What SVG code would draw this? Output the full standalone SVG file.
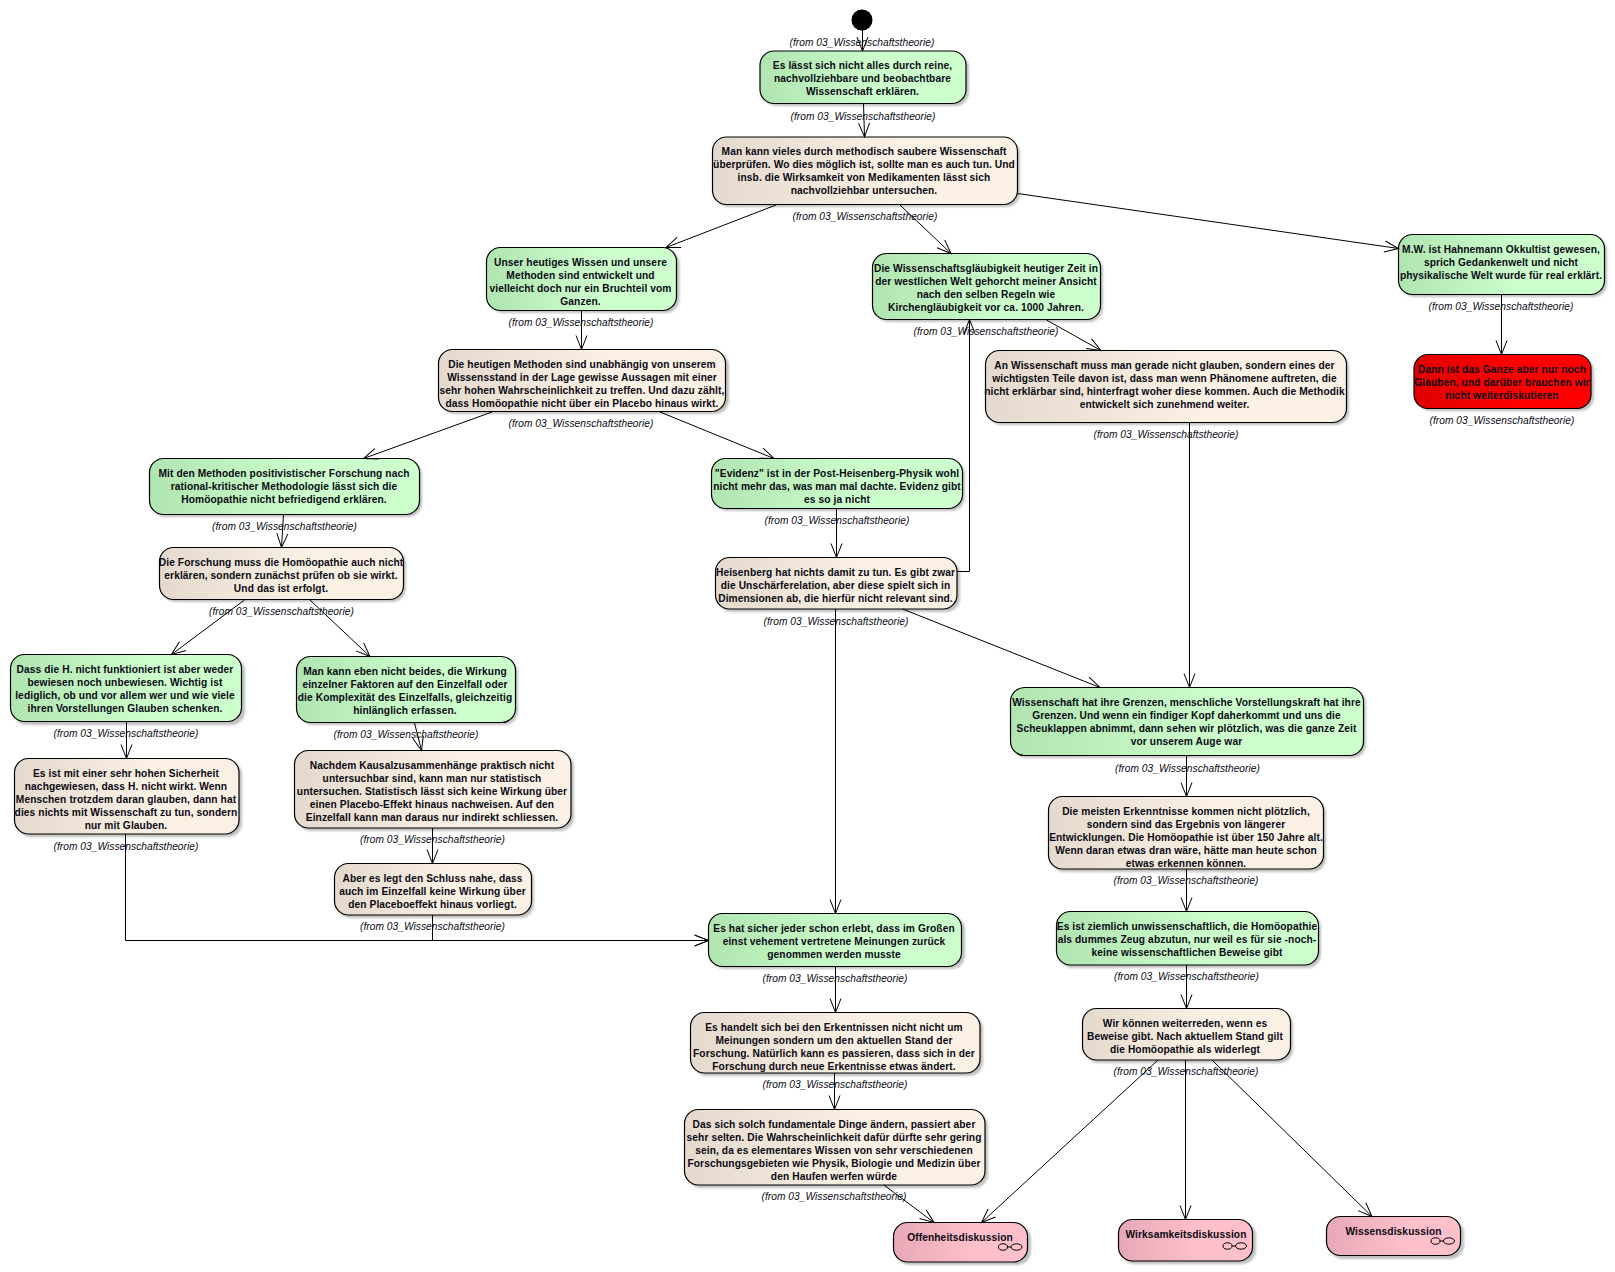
<svg xmlns="http://www.w3.org/2000/svg" width="1615" height="1272" viewBox="0 0 1615 1272">
<style>
.b{stroke:#000;stroke-width:1.2}
.s{fill:#aaa;opacity:.75;filter:url(#blur)}
.g{fill:url(#green)}.c{fill:url(#cream)}.p{fill:url(#pink)}.r{fill:url(#red)}
text{font-family:"Liberation Sans",Arial,sans-serif;fill:#0a0a14}
.t{font-size:10.2px;font-weight:700;text-anchor:middle;letter-spacing:.1px}
.f{font-size:10.2px;font-style:italic;text-anchor:middle;letter-spacing:.04px}
#connectors path{fill:none;stroke:#000;stroke-width:1;marker-end:url(#arrow)}
.i{fill:none;stroke:#000;stroke-width:1}
</style>
<defs>
<linearGradient id="green"><stop offset="0" stop-color="#b0e4b0"/><stop offset=".6" stop-color="#ccffcc"/></linearGradient>
<linearGradient id="cream"><stop offset="0" stop-color="#e4d9cc"/><stop offset=".6" stop-color="#faf0e4"/></linearGradient>
<linearGradient id="pink"><stop offset="0" stop-color="#e6a8b6"/><stop offset=".6" stop-color="#ffc0cb"/></linearGradient>
<linearGradient id="red"><stop offset="0" stop-color="#e00000"/><stop offset=".6" stop-color="#ff0000"/></linearGradient>
<filter id="blur" x="-5%" y="-5%" width="110%" height="110%"><feGaussianBlur stdDeviation="1"/></filter>
<marker id="arrow" markerUnits="userSpaceOnUse" markerWidth="20" markerHeight="14" refX="15" refY="7" orient="auto"><path d="M1 1.500L15 7L1 12.500" fill="none" stroke="#000" stroke-width="1"/></marker>
</defs>
<g id="nodes">
<g id="start"><circle cx="862" cy="20" r="10.500" fill="#000"/></g>
<text class="f" x="862" y="45.500">(from 03_Wissenschaftstheorie)</text>

<g id="n1"><rect class="s" x="763" y="54" width="206" height="52" rx="14"/><rect class="g b" x="760" y="51" width="206" height="52.500" rx="14"/>
<text class="t" y="69"><tspan x="862.500">Es lässt sich nicht alles durch reine,</tspan><tspan x="862.500" dy="13">nachvollziehbare und beobachtbare</tspan><tspan x="862.500" dy="13">Wissenschaft erklären.</tspan></text>
<text class="f" x="863" y="119.500">(from 03_Wissenschaftstheorie)</text></g>

<g id="n2"><rect class="s" x="715" y="140" width="305" height="67" rx="14"/><rect class="c b" x="712.500" y="137" width="305" height="67.500" rx="14"/>
<text class="t" y="155"><tspan x="864">Man kann vieles durch methodisch saubere Wissenschaft</tspan><tspan x="864" dy="13">überprüfen. Wo dies möglich ist, sollte man es auch tun. Und</tspan><tspan x="864" dy="13">insb. die Wirksamkeit von Medikamenten lässt sich</tspan><tspan x="864" dy="13">nachvollziehbar untersuchen.</tspan></text>
<text class="f" x="865" y="220">(from 03_Wissenschaftstheorie)</text></g>

<g id="n3"><rect class="s" x="489.500" y="250" width="190" height="63" rx="14"/><rect class="g b" x="486.500" y="247.500" width="190" height="63" rx="14"/>
<text class="t" y="265.500"><tspan x="580.500">Unser heutiges Wissen und unsere</tspan><tspan x="580.500" dy="13">Methoden sind entwickelt und</tspan><tspan x="580.500" dy="13">vielleicht doch nur ein Bruchteil vom</tspan><tspan x="580.500" dy="13">Ganzen.</tspan></text>
<text class="f" x="581" y="326">(from 03_Wissenschaftstheorie)</text></g>

<g id="n4"><rect class="s" x="875" y="256" width="228" height="66" rx="14"/><rect class="g b" x="872.500" y="253.500" width="228" height="66" rx="14"/>
<text class="t" y="271.500"><tspan x="986">Die Wissenschaftsgläubigkeit heutiger Zeit in</tspan><tspan x="986" dy="13">der westlichen Welt gehorcht meiner Ansicht</tspan><tspan x="986" dy="13">nach den selben Regeln wie</tspan><tspan x="986" dy="13">Kirchengläubigkeit vor ca. 1000 Jahren.</tspan></text>
<text class="f" x="986" y="335">(from 03_Wissenschaftstheorie)</text></g>

<g id="n5"><rect class="s" x="1401" y="237" width="206" height="60" rx="14"/><rect class="g b" x="1398.500" y="234.500" width="206" height="60" rx="14"/>
<text class="t" y="252.500"><tspan x="1501">M.W. ist Hahnemann Okkultist gewesen,</tspan><tspan x="1501" dy="13">sprich Gedankenwelt und nicht</tspan><tspan x="1501" dy="13">physikalische Welt wurde für real erklärt.</tspan></text>
<text class="f" x="1501" y="310">(from 03_Wissenschaftstheorie)</text></g>

<g id="n6"><rect class="s" x="1417" y="357" width="177" height="54" rx="14"/><rect class="r b" x="1414" y="354.500" width="177" height="54" rx="14"/>
<text class="t" y="373"><tspan x="1502">Dann ist das Ganze aber nur noch</tspan><tspan x="1502" dy="13">Glauben, und darüber brauchen wir</tspan><tspan x="1502" dy="13">nicht weiterdiskutieren</tspan></text>
<text class="f" x="1502" y="424">(from 03_Wissenschaftstheorie)</text></g>

<g id="n7"><rect class="s" x="441" y="352" width="288" height="62" rx="14"/><rect class="c b" x="438.500" y="349.500" width="287" height="62" rx="14"/>
<text class="t" y="367.500"><tspan x="582">Die heutigen Methoden sind unabhängig von unserem</tspan><tspan x="582" dy="13">Wissensstand in der Lage gewisse Aussagen mit einer</tspan><tspan x="582" dy="13">sehr hohen Wahrscheinlichkeit zu treffen. Und dazu zählt,</tspan><tspan x="582" dy="13">dass Homöopathie nicht über ein Placebo hinaus wirkt.</tspan></text>
<text class="f" x="581" y="427">(from 03_Wissenschaftstheorie)</text></g>

<g id="n8"><rect class="s" x="988" y="353" width="361" height="72" rx="14"/><rect class="c b" x="985.500" y="350.500" width="361" height="72" rx="14"/>
<text class="t" y="368.500"><tspan x="1164.500">An Wissenschaft muss man gerade nicht glauben, sondern eines der</tspan><tspan x="1164.500" dy="13">wichtigsten Teile davon ist, dass man wenn Phänomene auftreten, die</tspan><tspan x="1164.500" dy="13">nicht erklärbar sind, hinterfragt woher diese kommen. Auch die Methodik</tspan><tspan x="1164.500" dy="13">entwickelt sich zunehmend weiter.</tspan></text>
<text class="f" x="1166" y="438">(from 03_Wissenschaftstheorie)</text></g>

<g id="n9"><rect class="s" x="152" y="461" width="270" height="56" rx="14"/><rect class="g b" x="149.500" y="458.500" width="270" height="56" rx="14"/>
<text class="t" y="476.500"><tspan x="284">Mit den Methoden positivistischer Forschung nach</tspan><tspan x="284" dy="13">rational-kritischer Methodologie lässt sich die</tspan><tspan x="284" dy="13">Homöopathie nicht befriedigend erklären.</tspan></text>
<text class="f" x="284.500" y="530">(from 03_Wissenschaftstheorie)</text></g>

<g id="n10"><rect class="s" x="714" y="461" width="251" height="50" rx="14"/><rect class="g b" x="711.500" y="458.500" width="251" height="50" rx="14"/>
<text class="t" y="476.500"><tspan x="837">"Evidenz" ist in der Post-Heisenberg-Physik wohl</tspan><tspan x="837" dy="13">nicht mehr das, was man mal dachte. Evidenz gibt</tspan><tspan x="837" dy="13">es so ja nicht</tspan></text>
<text class="f" x="837" y="524">(from 03_Wissenschaftstheorie)</text></g>

<g id="n11"><rect class="s" x="162" y="550" width="244" height="52" rx="14"/><rect class="c b" x="159.500" y="547.500" width="244" height="52" rx="14"/>
<text class="t" y="565.500"><tspan x="281">Die Forschung muss die Homöopathie auch nicht</tspan><tspan x="281" dy="13">erklären, sondern zunächst prüfen ob sie wirkt.</tspan><tspan x="281" dy="13">Und das ist erfolgt.</tspan></text>
<text class="f" x="281.500" y="615">(from 03_Wissenschaftstheorie)</text></g>

<g id="n12"><rect class="s" x="718" y="560" width="242" height="52" rx="14"/><rect class="c b" x="715.500" y="557.500" width="241.500" height="51.500" rx="14"/>
<text class="t" y="575.500"><tspan x="835.500">Heisenberg hat nichts damit zu tun. Es gibt zwar</tspan><tspan x="835.500" dy="13">die Unschärferelation, aber diese spielt sich in</tspan><tspan x="835.500" dy="13">Dimensionen ab, die hierfür nicht relevant sind.</tspan></text>
<text class="f" x="836" y="624.500">(from 03_Wissenschaftstheorie)</text></g>

<g id="n13"><rect class="s" x="13" y="657" width="232" height="68" rx="14"/><rect class="g b" x="10.500" y="654.500" width="231" height="67" rx="14"/>
<text class="t" y="672.500"><tspan x="125">Dass die H. nicht funktioniert ist aber weder</tspan><tspan x="125" dy="13">bewiesen noch unbewiesen. Wichtig ist</tspan><tspan x="125" dy="13">lediglich, ob und vor allem wer und wie viele</tspan><tspan x="125" dy="13">ihren Vorstellungen Glauben schenken.</tspan></text>
<text class="f" x="126" y="737">(from 03_Wissenschaftstheorie)</text></g>

<g id="n14"><rect class="s" x="299" y="659" width="219" height="66" rx="14"/><rect class="g b" x="296.500" y="656.500" width="219" height="66" rx="14"/>
<text class="t" y="674.500"><tspan x="405">Man kann eben nicht beides, die Wirkung</tspan><tspan x="405" dy="13">einzelner Faktoren auf den Einzelfall oder</tspan><tspan x="405" dy="13">die Komplexität des Einzelfalls, gleichzeitig</tspan><tspan x="405" dy="13">hinlänglich erfassen.</tspan></text>
<text class="f" x="406" y="738">(from 03_Wissenschaftstheorie)</text></g>

<g id="n15"><rect class="s" x="1013" y="690" width="353" height="68" rx="14"/><rect class="g b" x="1010.500" y="687.500" width="353" height="68" rx="14"/>
<text class="t" y="705.500"><tspan x="1186.500">Wissenschaft hat ihre Grenzen, menschliche Vorstellungskraft hat ihre</tspan><tspan x="1186.500" dy="13">Grenzen. Und wenn ein findiger Kopf daherkommt und uns die</tspan><tspan x="1186.500" dy="13">Scheuklappen abnimmt, dann sehen wir plötzlich, was die ganze Zeit</tspan><tspan x="1186.500" dy="13">vor unserem Auge war</tspan></text>
<text class="f" x="1187.500" y="771.500">(from 03_Wissenschaftstheorie)</text></g>

<g id="n16"><rect class="s" x="17" y="761" width="225" height="76" rx="14"/><rect class="c b" x="14.500" y="758.500" width="224.500" height="75.500" rx="14"/>
<text class="t" y="776.500"><tspan x="126">Es ist mit einer sehr hohen Sicherheit</tspan><tspan x="126" dy="13">nachgewiesen, dass H. nicht wirkt. Wenn</tspan><tspan x="126" dy="13">Menschen trotzdem daran glauben, dann hat</tspan><tspan x="126" dy="13">dies nichts mit Wissenschaft zu tun, sondern</tspan><tspan x="126" dy="13">nur mit Glauben.</tspan></text>
<text class="f" x="126" y="849.500">(from 03_Wissenschaftstheorie)</text></g>

<g id="n17"><rect class="s" x="297" y="753" width="277" height="78" rx="14"/><rect class="c b" x="294.500" y="750.500" width="276.500" height="77.500" rx="14"/>
<text class="t" y="768.500"><tspan x="432">Nachdem Kausalzusammenhänge praktisch nicht</tspan><tspan x="432" dy="13">untersuchbar sind, kann man nur statistisch</tspan><tspan x="432" dy="13">untersuchen. Statistisch lässt sich keine Wirkung über</tspan><tspan x="432" dy="13">einen Placebo-Effekt hinaus nachweisen. Auf den</tspan><tspan x="432" dy="13">Einzelfall kann man daraus nur indirekt schliessen.</tspan></text>
<text class="f" x="432.500" y="843">(from 03_Wissenschaftstheorie)</text></g>

<g id="n18"><rect class="s" x="1051" y="799" width="275" height="73" rx="14"/><rect class="c b" x="1048.500" y="796.500" width="275" height="72.500" rx="14"/>
<text class="t" y="814.500"><tspan x="1186">Die meisten Erkenntnisse kommen nicht plötzlich,</tspan><tspan x="1186" dy="13">sondern sind das Ergebnis von längerer</tspan><tspan x="1186" dy="13">Entwicklungen. Die Homöopathie ist über 150 Jahre alt.</tspan><tspan x="1186" dy="13">Wenn daran etwas dran wäre, hätte man heute schon</tspan><tspan x="1186" dy="13">etwas erkennen können.</tspan></text>
<text class="f" x="1186" y="884">(from 03_Wissenschaftstheorie)</text></g>

<g id="n19"><rect class="s" x="337" y="866" width="197" height="52" rx="14"/><rect class="c b" x="334.500" y="863.500" width="197" height="51.500" rx="14"/>
<text class="t" y="881.500"><tspan x="432.500">Aber es legt den Schluss nahe, dass</tspan><tspan x="432.500" dy="13">auch im Einzelfall keine Wirkung über</tspan><tspan x="432.500" dy="13">den Placeboeffekt hinaus vorliegt.</tspan></text>
<text class="f" x="432.500" y="930">(from 03_Wissenschaftstheorie)</text></g>

<g id="n20"><rect class="s" x="1059" y="914" width="262" height="54" rx="14"/><rect class="g b" x="1056.500" y="911.500" width="262" height="53.500" rx="14"/>
<text class="t" y="929.500"><tspan x="1187">Es ist ziemlich unwissenschaftlich, die Homöopathie</tspan><tspan x="1187" dy="13">als dummes Zeug abzutun, nur weil es für sie -noch-</tspan><tspan x="1187" dy="13">keine wissenschaftlichen Beweise gibt</tspan></text>
<text class="f" x="1186.500" y="980">(from 03_Wissenschaftstheorie)</text></g>

<g id="n21"><rect class="s" x="711" y="916" width="254" height="53" rx="14"/><rect class="g b" x="708.500" y="913.500" width="253" height="53" rx="14"/>
<text class="t" y="931.500"><tspan x="834">Es hat sicher jeder schon erlebt, dass im Großen</tspan><tspan x="834" dy="13">einst vehement vertretene Meinungen zurück</tspan><tspan x="834" dy="13">genommen werden musste</tspan></text>
<text class="f" x="835" y="982">(from 03_Wissenschaftstheorie)</text></g>

<g id="n22"><rect class="s" x="1085" y="1011" width="208" height="52" rx="14"/><rect class="c b" x="1082.500" y="1008.500" width="208" height="51.500" rx="14"/>
<text class="t" y="1026.500"><tspan x="1185">Wir können weiterreden, wenn es</tspan><tspan x="1185" dy="13">Beweise gibt. Nach aktuellem Stand gilt</tspan><tspan x="1185" dy="13">die Homöopathie als widerlegt</tspan></text>
<text class="f" x="1186" y="1075">(from 03_Wissenschaftstheorie)</text></g>

<g id="n23"><rect class="s" x="693" y="1015" width="290" height="61" rx="14"/><rect class="c b" x="690.500" y="1012.500" width="289.500" height="60.500" rx="14"/>
<text class="t" y="1030.500"><tspan x="834">Es handelt sich bei den Erkentnissen nicht nicht um</tspan><tspan x="834" dy="13">Meinungen sondern um den aktuellen Stand der</tspan><tspan x="834" dy="13">Forschung. Natürlich kann es passieren, dass sich in der</tspan><tspan x="834" dy="13">Forschung durch neue Erkentnisse etwas ändert.</tspan></text>
<text class="f" x="835" y="1088">(from 03_Wissenschaftstheorie)</text></g>

<g id="n24"><rect class="s" x="687" y="1112" width="301" height="76" rx="14"/><rect class="c b" x="684.500" y="1109.500" width="300.500" height="75.500" rx="14"/>
<text class="t" y="1127.500"><tspan x="834">Das sich solch fundamentale Dinge ändern, passiert aber</tspan><tspan x="834" dy="13">sehr selten. Die Wahrscheinlichkeit dafür dürfte sehr gering</tspan><tspan x="834" dy="13">sein, da es elementares Wissen von sehr verschiedenen</tspan><tspan x="834" dy="13">Forschungsgebieten wie Physik, Biologie und Medizin über</tspan><tspan x="834" dy="13">den Haufen werfen würde</tspan></text>
<text class="f" x="834" y="1200">(from 03_Wissenschaftstheorie)</text></g>

<g id="n25"><rect class="s" x="896" y="1225" width="135" height="40" rx="14"/><rect class="p b" x="893.500" y="1222.500" width="134" height="39.500" rx="14"/>
<text class="t" x="960" y="1240.500">Offenheitsdiskussion</text>
<g class="i"><ellipse cx="1003" cy="1247" rx="4.500" ry="3.200"/><ellipse cx="1016.500" cy="1247" rx="5.500" ry="3.200"/><path d="M1007.500 1247h3.500"/></g></g>

<g id="n26"><rect class="s" x="1121" y="1222" width="135" height="42" rx="14"/><rect class="p b" x="1118.500" y="1219.500" width="134" height="41.500" rx="14"/>
<text class="t" x="1186" y="1237.500">Wirksamkeitsdiskussion</text>
<g class="i"><ellipse cx="1227.500" cy="1246" rx="4.500" ry="3.200"/><ellipse cx="1241" cy="1246" rx="5.500" ry="3.200"/><path d="M1232 1246h3.500"/></g></g>

<g id="n27"><rect class="s" x="1329" y="1219" width="135" height="40" rx="14"/><rect class="p b" x="1326.500" y="1216.500" width="134" height="39" rx="14"/>
<text class="t" x="1393.500" y="1234.500">Wissensdiskussion</text>
<g class="i"><ellipse cx="1435.500" cy="1241" rx="4.500" ry="3.200"/><ellipse cx="1449" cy="1241" rx="5.500" ry="3.200"/><path d="M1440 1241h3.500"/></g></g>
</g>
<g id="connectors">
<path d="M862.500 30V51"/>
<path d="M863.500 103.500L864.500 137"/>
<path d="M776 205L666 247.500"/>
<path d="M900 205L951 253.500"/>
<path d="M1017.500 193.500L1398.500 248.500"/>
<path d="M581.500 310.500V349.500"/>
<path d="M1046.500 320L1101 350.500"/>
<path d="M1501.500 294.500V354.500"/>
<path d="M492 412L363.500 458.500"/>
<path d="M660 412L774 458.500"/>
<path d="M283.500 514.500L281.500 547.500"/>
<path d="M836.500 508.500V557.500"/>
<path d="M244.500 600L171.500 654.500"/>
<path d="M310 600L370 656.500"/>
<path d="M126.500 721.500V758.500"/>
<path d="M414.500 723L421.500 750.500"/>
<path d="M432.500 828V863.500"/>
<path d="M957 571.500H969.500V319.500"/>
<path d="M835.500 609V913.500"/>
<path d="M902.500 609L1100 687.500"/>
<path d="M1189.500 423V687.500"/>
<path d="M1186.500 756V796.500"/>
<path d="M1186.500 869V911.500"/>
<path d="M1186.500 965V1008.500"/>
<path d="M125.500 834V940.500H708.500"/>
<path d="M432.500 915V940.500H708.500"/>
<path d="M835.500 966.500V1012.500"/>
<path d="M834.500 1073V1109.500"/>
<path d="M884 1185L934 1222.500"/>
<path d="M1158 1060L981.500 1222.500"/>
<path d="M1185.500 1060V1219.500"/>
<path d="M1212 1060L1372 1216.500"/>
</g>
</svg>
